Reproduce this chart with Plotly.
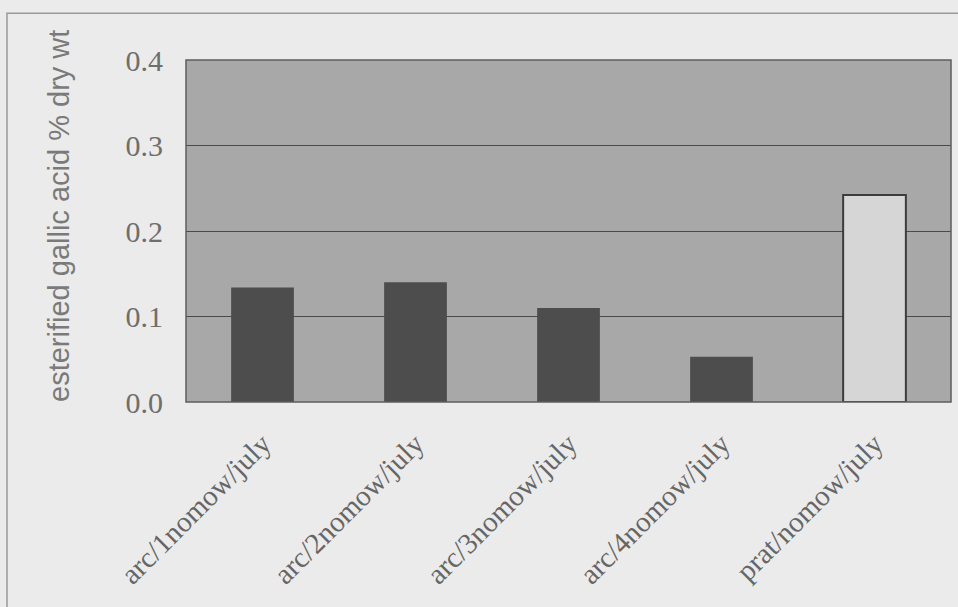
import plotly.graph_objects as go

categories = ["arc/1nomow/july", "arc/2nomow/july", "arc/3nomow/july",
              "arc/4nomow/july", "prat/nomow/july"]
values = [0.134, 0.140, 0.110, 0.053, 0.242]
bar_colors = ["#4d4d4d", "#4d4d4d", "#4d4d4d", "#4d4d4d", "#d6d6d6"]
line_colors = ["#4d4d4d", "#4d4d4d", "#4d4d4d", "#4d4d4d", "#3c3c3c"]
line_widths = [0, 0, 0, 0, 2]
y_ticks = [0.0, 0.1, 0.2, 0.3, 0.4]
y_tick_text = ["0.0", "0.1", "0.2", "0.3", "0.4"]
y_title = "esterified gallic acid % dry wt"

fig = go.Figure(go.Bar(
    x=categories, y=values,
    marker=dict(color=bar_colors, line=dict(color=line_colors, width=line_widths)),
    width=0.41,
))

fig.update_layout(
    width=958, height=607,
    margin=dict(l=186, r=7, t=60, b=205),
    paper_bgcolor="#ebebeb",
    plot_bgcolor="#a8a8a8",
    showlegend=False,
    font=dict(family="Liberation Serif", color="#6e6e6e"),
    shapes=[
        # outer chart frame
        dict(type="rect", xref="paper", yref="paper",
             x0=-0.234, x1=1.2, y0=-1.0, y1=1.137,
             line=dict(color="#9a9a9a", width=1.5), layer="below"),
        # plot area border
        dict(type="rect", xref="paper", yref="paper",
             x0=0, x1=1, y0=0, y1=1,
             line=dict(color="#5e5e5e", width=1.5)),
    ],
    annotations=[
        dict(text=y_title, xref="paper", yref="paper", x=-0.166, y=0.544,
             textangle=-90, showarrow=False, xanchor="center", yanchor="middle",
             font=dict(size=29, family="Liberation Sans", color="#7a7a7a")),
    ],
)

fig.update_xaxes(
    tickangle=-45, tickfont=dict(size=29, family="Liberation Serif", color="#666666"),
    showline=False, ticks="", range=[-0.5, 4.5],
    ticklabelstandoff=18, automargin=False,
)
fig.update_yaxes(
    range=[0, 0.4], tickvals=y_ticks, ticktext=y_tick_text,
    tickfont=dict(size=30, family="Liberation Serif", color="#6e6e6e"),
    showgrid=True, gridcolor="#4a4a4a", gridwidth=1,
    zeroline=False, showline=False, ticks="", ticklabelstandoff=22,
    automargin=False,
)

fig.write_html("out.html")
